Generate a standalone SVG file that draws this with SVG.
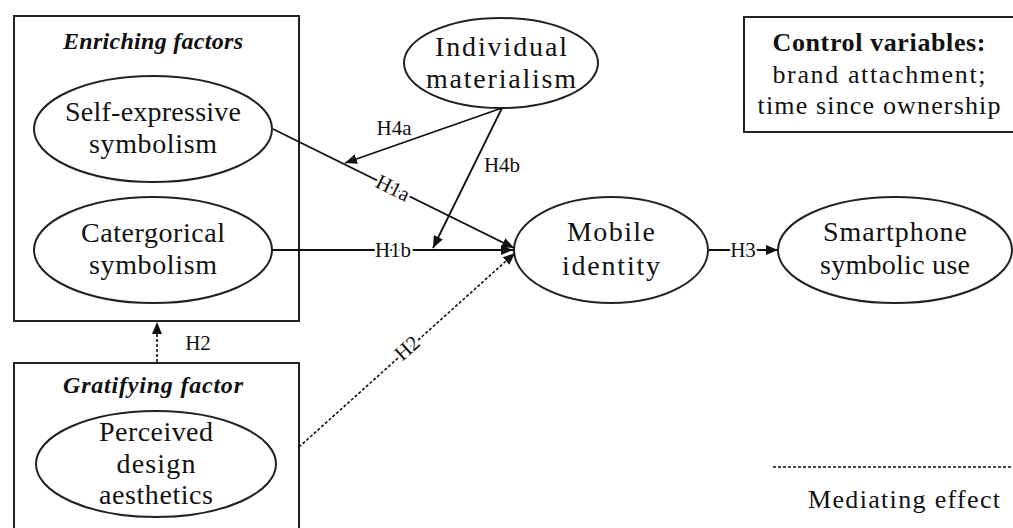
<svg xmlns="http://www.w3.org/2000/svg" width="1013" height="528" viewBox="0 0 1013 528">
<style>
text{font-family:"Liberation Serif","Times New Roman",serif;fill:#111}
.n{font-size:28px;text-anchor:middle}
.t{font-size:24px;font-style:italic;font-weight:bold;text-anchor:middle}
.c{font-size:26px;text-anchor:middle}
.l{font-size:21px;text-anchor:middle;paint-order:stroke;stroke:#fff;stroke-width:5px;stroke-linejoin:round}
.shape{fill:#fff;stroke:#222;stroke-width:2}
.e{fill:none;stroke:#111;stroke-width:1.8}
.d{fill:none;stroke:#111;stroke-width:1.6;stroke-dasharray:3 2}
</style>
<defs>
<marker id="a" viewBox="0 0 12 10" refX="12" refY="5" markerWidth="12" markerHeight="10" markerUnits="userSpaceOnUse" orient="auto">
<path d="M0,0 L12,5 L0,10 Z" fill="#111"/>
</marker>
</defs>
<rect width="1013" height="528" fill="#fff"/>
<g id="enriching">
<rect class="shape" x="14" y="16" width="285" height="305"/>
<text class="t" x="153" y="49" textLength="180" lengthAdjust="spacing">Enriching factors</text>
</g>
<g id="gratifying">
<rect class="shape" x="14" y="363" width="285" height="180"/>
<text class="t" x="153" y="393" textLength="180" lengthAdjust="spacing">Gratifying factor</text>
</g>
<g id="self-expressive">
<ellipse class="shape" cx="153" cy="129" rx="119" ry="53"/>
<text class="n" x="153" y="121" textLength="176" lengthAdjust="spacing">Self-expressive</text>
<text class="n" x="153" y="153" textLength="128" lengthAdjust="spacing">symbolism</text>
</g>
<g id="categorical">
<ellipse class="shape" cx="153" cy="250" rx="119" ry="53"/>
<text class="n" x="153" y="242" textLength="144" lengthAdjust="spacing">Catergorical</text>
<text class="n" x="153" y="274" textLength="128" lengthAdjust="spacing">symbolism</text>
</g>
<g id="individual">
<ellipse class="shape" cx="501" cy="63" rx="97" ry="45"/>
<text class="n" x="501" y="56" textLength="132" lengthAdjust="spacing">Individual</text>
<text class="n" x="501" y="88" textLength="150" lengthAdjust="spacing">materialism</text>
</g>
<g id="mobile">
<ellipse class="shape" cx="611" cy="250" rx="97" ry="53"/>
<text class="n" x="611" y="241" textLength="88" lengthAdjust="spacing">Mobile</text>
<text class="n" x="611" y="275" textLength="98" lengthAdjust="spacing">identity</text>
</g>
<g id="smartphone">
<ellipse class="shape" cx="895" cy="250" rx="117" ry="53"/>
<text class="n" x="895" y="241" textLength="144" lengthAdjust="spacing">Smartphone</text>
<text class="n" x="895" y="274" textLength="150" lengthAdjust="spacing">symbolic use</text>
</g>
<g id="perceived">
<ellipse class="shape" cx="156" cy="464" rx="120" ry="53"/>
<text class="n" x="156" y="441" textLength="114" lengthAdjust="spacing">Perceived</text>
<text class="n" x="156" y="473" textLength="79" lengthAdjust="spacing">design</text>
<text class="n" x="156" y="504" textLength="114" lengthAdjust="spacing">aesthetics</text>
</g>
<g id="control">
<rect class="shape" x="744" y="17" width="290" height="115"/>
<text class="c" x="879" y="51" font-weight="bold" textLength="213" lengthAdjust="spacing">Control variables:</text>
<text class="c" x="879" y="83" textLength="213" lengthAdjust="spacing">brand attachment;</text>
<text class="c" x="879" y="114" textLength="243" lengthAdjust="spacing">time since ownership</text>
</g>
<g id="connectors">
<line class="e" x1="273" y1="129" x2="514" y2="248" marker-end="url(#a)"/>
<line class="e" x1="272" y1="250" x2="513" y2="250" marker-end="url(#a)"/>
<line class="e" x1="502" y1="108" x2="345" y2="163" marker-end="url(#a)"/>
<line class="e" x1="502" y1="108" x2="433" y2="248" marker-end="url(#a)"/>
<line class="e" x1="709" y1="250" x2="778" y2="250" marker-end="url(#a)"/>
<line class="d" x1="299" y1="447" x2="515" y2="253" marker-end="url(#a)"/>
<line class="d" x1="157" y1="362" x2="157" y2="322" marker-end="url(#a)"/>
<text class="l" x="393" y="195" transform="rotate(26.2 393 188)">H1a</text>
<text class="l" x="393" y="257">H1b</text>
<text class="l" x="394" y="135" style="stroke:none">H4a</text>
<text class="l" x="502" y="172" style="stroke:none">H4b</text>
<text class="l" x="743" y="257">H3</text>
<text class="l" x="407" y="355" transform="rotate(-42 407 348)">H2</text>
<text class="l" x="198" y="350" style="stroke:none">H2</text>
</g>
<g id="legend">
<line class="d" x1="773" y1="467" x2="1013" y2="467"/>
<text class="c" x="904" y="508" textLength="192" lengthAdjust="spacing">Mediating effect</text>
</g>
</svg>
